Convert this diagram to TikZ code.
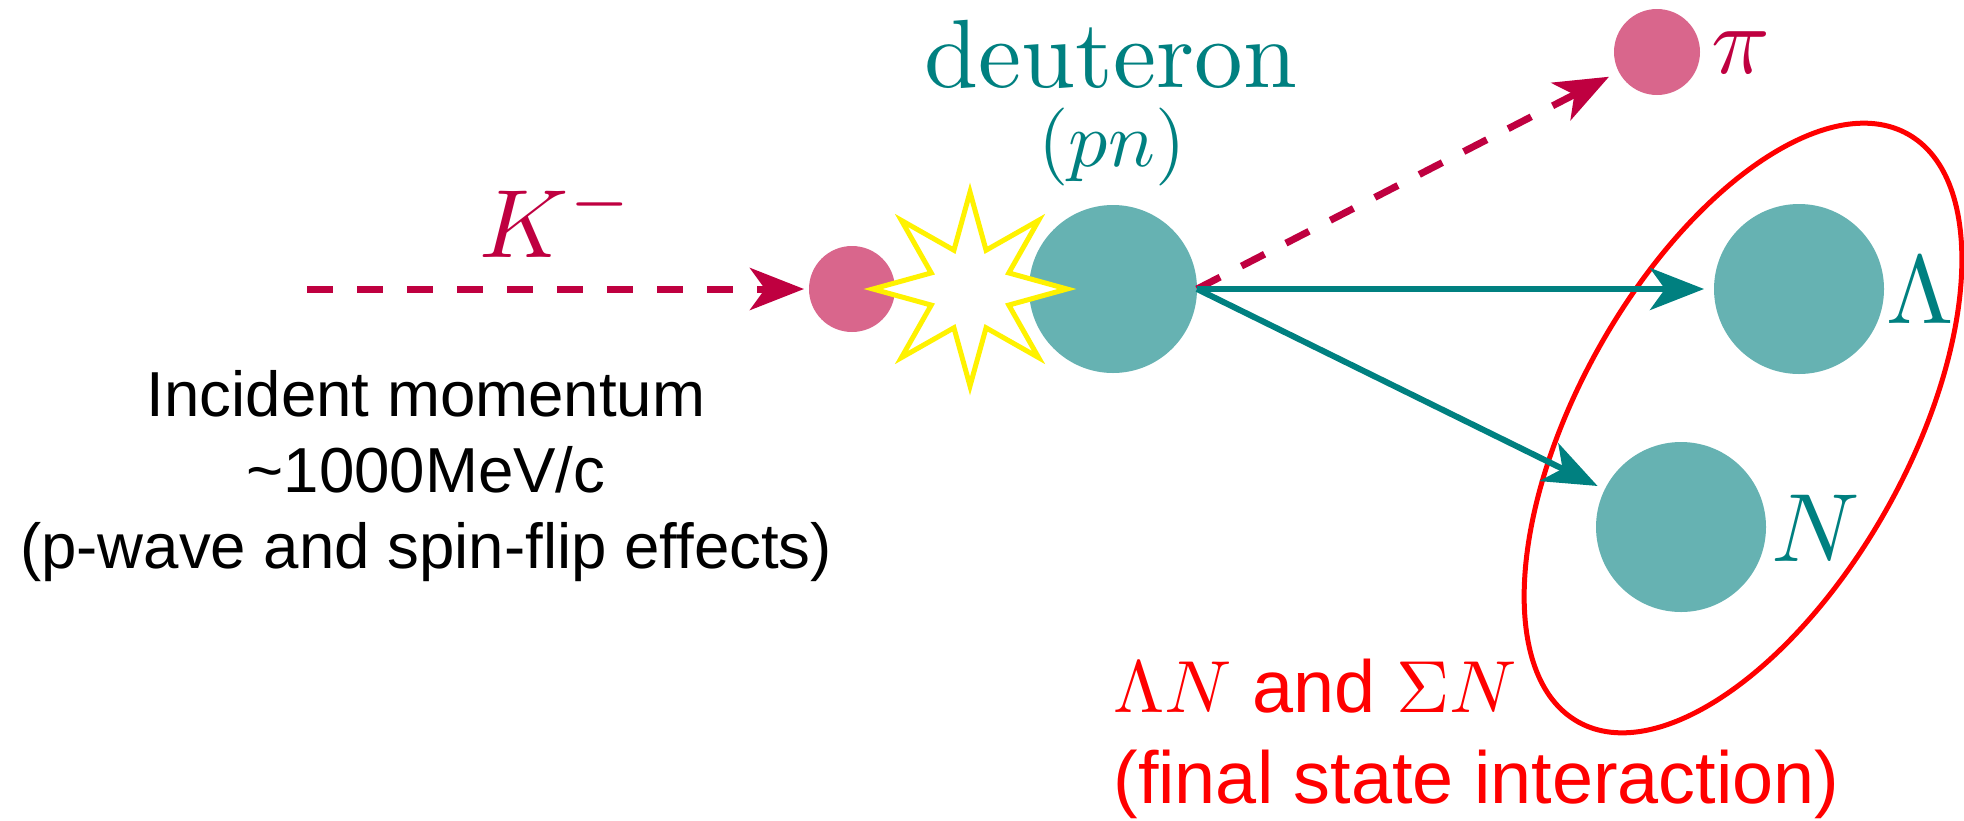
\documentclass[tikz,border=0pt]{standalone}
\usepackage{fontspec}
\newfontfamily\arialfont{Liberation Sans}
\usetikzlibrary{arrows.meta,shapes.geometric}
\begin{document}
\begin{tikzpicture}[x=0.5pt,y=-0.5pt,
  ball/.style={circle, inner sep=0pt, outer sep=0pt, draw=none},
  arr/.style={-{Stealth[length=27pt,width=21pt,inset=7.5pt]}},
  kline/.style={purple, line width=3.5pt, dash pattern=on 13pt off 12pt, arr},
  tline/.style={teal, line width=3pt, arr},
  biglab/.style={inner sep=0pt, font=\fontsize{10}{12}\selectfont, scale=4.85},
]
\useasboundingbox (0,0) rectangle (1964,820);

% final-state ellipse
\draw[red, line width=2.5pt, rotate around={60.7:(1743,428)}] (1743,428) ellipse [x radius=168.5pt, y radius=82.5pt];

% particles
\node[ball, fill=purple!60, minimum size=43pt] (km) at (852,289) {};
\node[ball, fill=teal!60, minimum size=84pt] (d) at (1113,289) {};
\node[ball, fill=purple!60, minimum size=43pt] (pi) at (1657,52) {};
\node[ball, fill=teal!60, minimum size=85pt] (lam) at (1799,289) {};
\node[ball, fill=teal!60, minimum size=85pt] (n) at (1681,527) {};

% collision star
\node[star, star points=8, star point ratio=2.31, minimum size=97pt, inner sep=0pt,
      draw=yellow, fill=white, line width=2.5pt] (boom) at (970,289) {};

% connectors
\coordinate (kstart) at (307,289);
\draw[kline, shorten >=2.5pt] (kstart) -- (km);
\draw[kline, shorten >=5.5pt] (d.east) -- (pi);
\draw[tline, shorten >=5pt] (d.east) -- (lam);
\draw[tline, shorten >=4pt] (d.east) -- (n);

% labels
\node[biglab, text=purple, anchor=base west] (klab) at (478,257) {$K^-$};
\node[biglab, text=teal, anchor=base] (dlab) at (1111,87) {deuteron};
\node[inner sep=0pt, font=\fontsize{10}{12}\selectfont, scale=3.9, text=teal, anchor=base] (pnlab) at (1112,166) {$(pn)$};
\node[biglab, text=purple, anchor=base west] (pilab) at (1710,73) {$\pi$};
\node[biglab, text=teal, anchor=base west] (lamlab) at (1885,323) {$\Lambda$};
\node[biglab, text=teal, anchor=base west] (nlab) at (1770,561) {$N$};

\node[inner sep=0pt, align=center, anchor=base, font=\arialfont\fontsize{31.8}{38}\selectfont] (inc) at (426,568)
  {Incident momentum\\\textasciitilde1000MeV/c\\(p-wave and spin-flip effects)};

\node[inner sep=0pt, text=red, align=left, anchor=base west, font=\arialfont\fontsize{10}{12.2}\selectfont, scale=3.69] (fsi) at (1112,803)
  {$\Lambda N$ and $\Sigma N$\\(final state interaction)};
\end{tikzpicture}
\end{document}
